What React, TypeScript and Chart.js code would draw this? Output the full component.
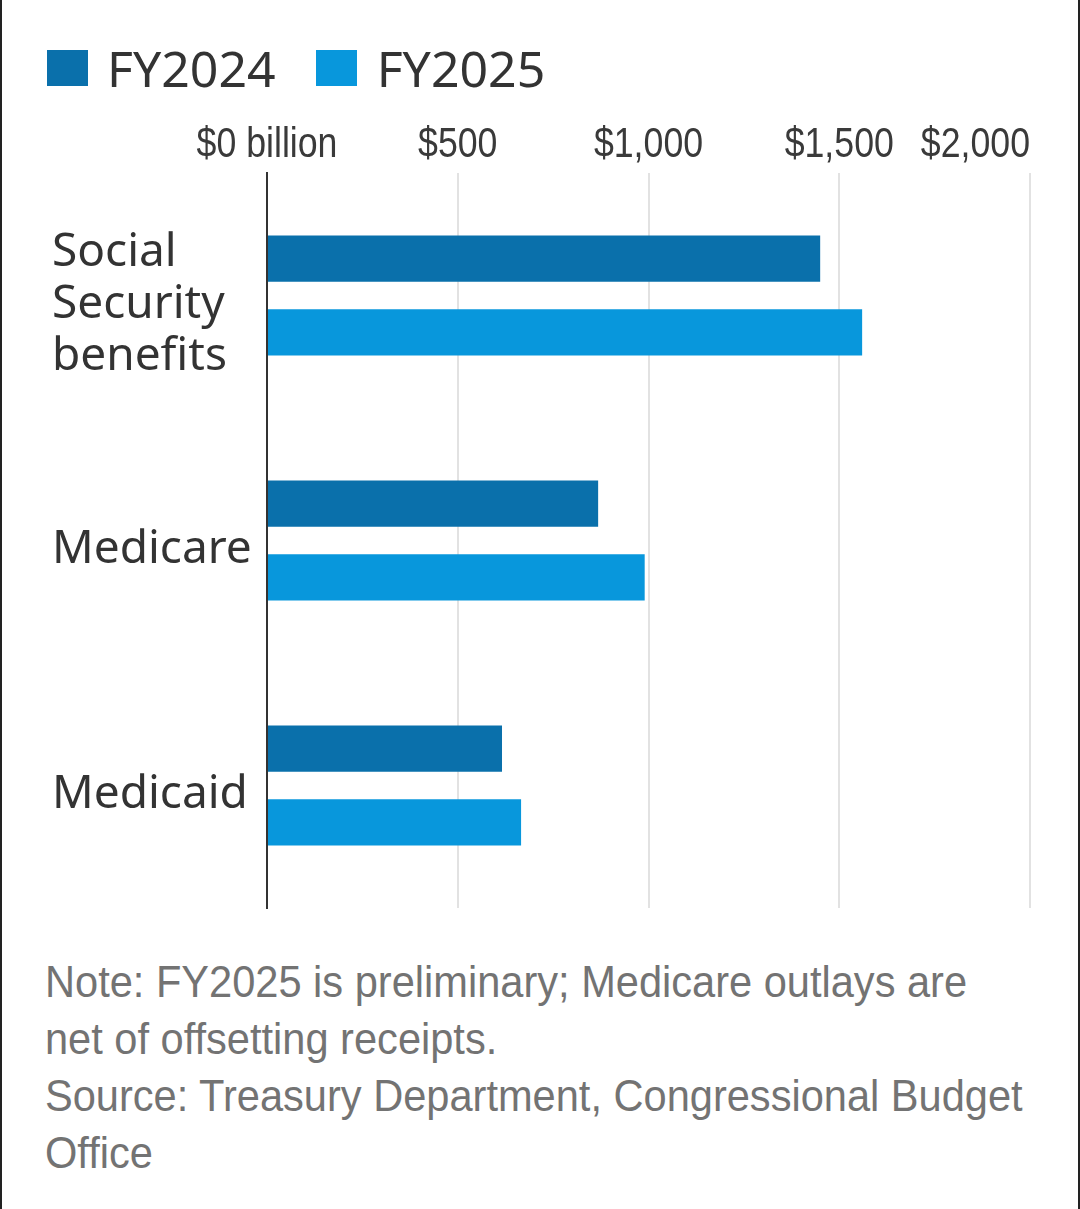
import React, { useEffect, useRef } from "react";
import { Chart, registerables } from "chart.js";

Chart.register(...registerables);

const categories: (string | string[])[] = [["Social", "Security", "benefits"], "Medicare", "Medicaid"];
const fy2024: number[] = [1450, 868, 616];
const fy2025: number[] = [1560, 990, 666];
const seriesNames: string[] = ["FY2024", "FY2025"];
const seriesColors: string[] = ["#0a70ab", "#0897dc"];
const tickValues: number[] = [0, 500, 1000, 1500, 2000];
const tickLabels: string[] = ["$0 billion", "$500", "$1,000", "$1,500", "$2,000"];
const noteLines: string[] = [
  "Note: FY2025 is preliminary; Medicare outlays are",
  "net of offsetting receipts.",
  "Source: Treasury Department, Congressional Budget",
  "Office",
];

const NARROW = '"Liberation Sans", Arial, sans-serif';
const SQUEEZE = 0.83;
const NOTE_SQUEEZE = 0.945;
const SANS = '"Noto Sans", "Open Sans", sans-serif';

const topTickPlugin = {
  id: "topTicks",
  afterDraw(chart: any) {
    const x = chart.scales.x;
    const ctx = chart.ctx;
    ctx.save();
    ctx.font = `43px ${NARROW}`;
    ctx.fillStyle = "#3a3a3a";
    ctx.textBaseline = "alphabetic";
    tickValues.forEach((v, i) => {
      const px = x.getPixelForValue(v);
      const last = i === tickValues.length - 1;
      ctx.save();
      ctx.translate(px, 157);
      ctx.scale(SQUEEZE, 1);
      ctx.textAlign = last ? "right" : "center";
      ctx.fillText(tickLabels[i], 0, 0);
      ctx.restore();
    });
    ctx.restore();
  },
};

export default function App() {
  const ref = useRef<HTMLCanvasElement | null>(null);

  useEffect(() => {
    document.body.style.margin = "0";
    if (!ref.current) return;
    const chart = new Chart(ref.current, {
      type: "bar",
      data: {
        labels: categories,
        datasets: [
          { label: seriesNames[0], data: fy2024, backgroundColor: seriesColors[0], categoryPercentage: 0.602, barPercentage: 0.626 },
          { label: seriesNames[1], data: fy2025, backgroundColor: seriesColors[1], categoryPercentage: 0.602, barPercentage: 0.626 },
        ],
      },
      options: {
        indexAxis: "y",
        animation: false,
        responsive: false,
        devicePixelRatio: 1,
        layout: { padding: { top: 173, bottom: 12, left: 52, right: 50 } },
        plugins: { legend: { display: false }, tooltip: { enabled: false } },
        scales: {
          x: {
            position: "top",
            min: 0,
            max: 2000,
            ticks: { display: false, stepSize: 500 },
            grid: { color: "#e2e2e2", lineWidth: 2, drawTicks: false },
            border: { display: false },
            afterFit: (s: any) => {
              s.height = 0;
              s.paddingLeft = 0;
              s.paddingRight = 0;
            },
          },
          y: {
            position: "left",
            grid: { display: false, drawTicks: false },
            border: { display: true, color: "#333333", width: 2 },
            ticks: {
              crossAlign: "far",
              color: "#333333",
              padding: 0,
              labelOffset: 9,
              font: { family: SANS, size: 46, lineHeight: 1.13 },
            },
            afterFit: (s: any) => {
              s.width = 267 - 52;
              s.paddingTop = 0;
              s.paddingBottom = 0;
            },
          },
        },
      },
      plugins: [topTickPlugin],
    });
    return () => chart.destroy();
  }, []);

  return (
    <div style={{ position: "relative", width: 1080, height: 1209, background: "#fff", overflow: "hidden" }}>
      <div style={{ position: "absolute", left: 0, top: 0, width: 2, height: 1209, background: "#222" }} />
      <div style={{ position: "absolute", right: 0, top: 0, width: 2, height: 1209, background: "#222" }} />
      <div style={{ position: "absolute", left: 47, top: 34, display: "flex", alignItems: "center", fontFamily: SANS, fontSize: 50, color: "#333", whiteSpace: "nowrap" }}>
        <span style={{ width: 41, height: 36, background: seriesColors[0], display: "inline-block", marginRight: 19 }} />
        <span style={{ marginRight: 40 }}>{seriesNames[0]}</span>
        <span style={{ width: 41, height: 36, background: seriesColors[1], display: "inline-block", marginRight: 20 }} />
        <span>{seriesNames[1]}</span>
      </div>
      <canvas ref={ref} width={1080} height={920} style={{ position: "absolute", left: 0, top: 0, width: 1080, height: 920 }} />
      <div style={{ position: "absolute", left: 45, top: 953, fontFamily: NARROW, fontSize: 44, lineHeight: "57px", color: "#737373", whiteSpace: "nowrap" }}>
        {noteLines.map((l, i) => (
          <div key={i} style={{ transform: `scaleX(${NOTE_SQUEEZE})`, transformOrigin: "left center" }}>{l}</div>
        ))}
      </div>
    </div>
  );
}
